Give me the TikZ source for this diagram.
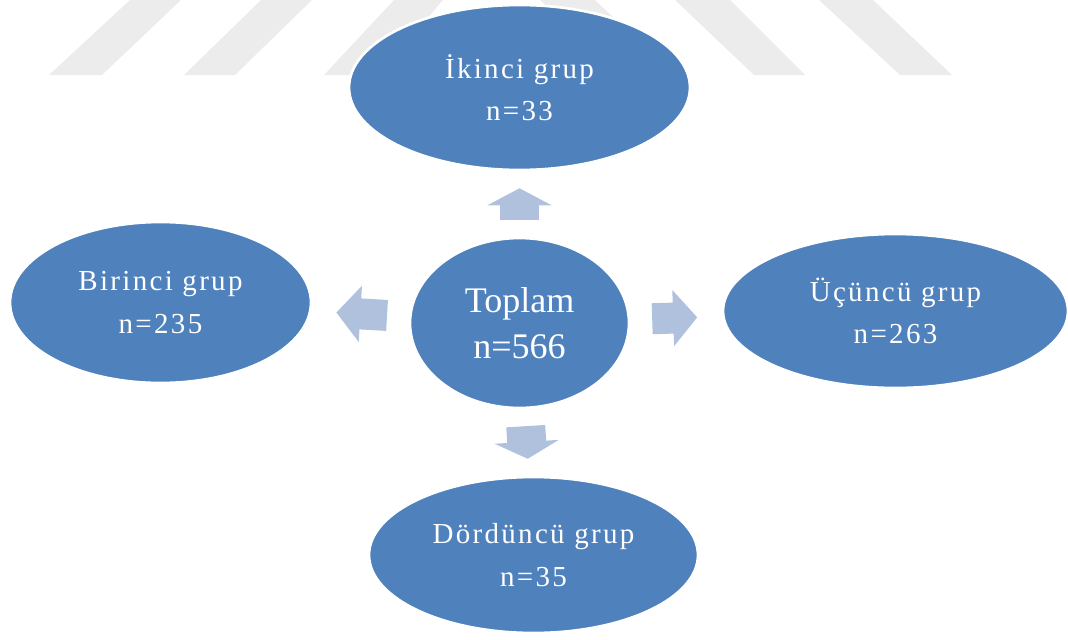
\documentclass[tikz,border=0pt]{standalone}
\usepackage{fontspec}
\setmainfont{Liberation Serif}
\newfontfamily\grpfont[LetterSpace=8]{Liberation Serif}
\usetikzlibrary{shapes.geometric,arrows.meta}

\definecolor{grpblue}{RGB}{79,129,189}
\definecolor{flowblue}{RGB}{176,193,221}
\definecolor{markgray}{RGB}{236,236,236}

\tikzset{
  grp/.style={ellipse, fill=grpblue, draw=white, line width=1.5pt, inner sep=0pt,
    text=white, align=center, font=\grpfont\fontsize{16.5}{24}\selectfont},
  vflow/.style={flowblue, line width=0.78cm, shorten <=0.34cm, shorten >=0.34cm,
    -{Triangle[width=1.28cm,length=0.34cm,line width=1pt]}},
  hflow/.style={flowblue, line width=0.62cm, shorten <=0.44cm, shorten >=0.5cm,
    -{Triangle[width=1.12cm,length=0.48cm,line width=1pt]}},
}

\begin{document}
\begin{tikzpicture}[x=0.02cm, y=-0.02cm]
  \useasboundingbox (0,0) rectangle (1068,639);

  % watermark stripes
  \begin{scope}[markgray]
    \fill (130,0)--(181,0)--(102,75)--(49,75)--cycle;
    \fill (261,0)--(312,0)--(235,75)--(184,75)--cycle;
    \fill (394,0)--(443,0)--(379,75)--(324,75)--cycle;
    \fill (540,0)--(595,0)--(674,75)--(619,75)--cycle;
    \fill (675,0)--(730,0)--(805,75)--(754,75)--cycle;
    \fill (819,0)--(873,0)--(952,75)--(900,75)--cycle;
  \end{scope}

  \node[grp, minimum width=4.38cm, minimum height=3.40cm,
    font=\fontsize{20.5}{26}\selectfont] (toplam) at (519.5,323) {Toplam\\n=566};
  \node[grp, minimum width=6.82cm, minimum height=3.30cm] (ikinci) at (519.5,87.5) {İkinci grup\\n=33};
  \node[grp, minimum width=6.02cm, minimum height=3.22cm] (birinci) at (160.5,302.5) {Birinci grup\\n=235};
  \node[grp, minimum width=6.90cm, minimum height=3.08cm] (ucuncu) at (895.5,311) {Üçüncü grup\\n=263};
  \node[grp, minimum width=6.58cm, minimum height=3.12cm] (dorduncu) at (533.5,555) {Dördüncü grup\\n=35};

  \draw[vflow] (toplam) -- (ikinci);
  \draw[vflow] (toplam) -- (dorduncu);
  \draw[hflow] (toplam) -- (birinci);
  \draw[hflow] (toplam) -- (ucuncu);
\end{tikzpicture}
\end{document}
